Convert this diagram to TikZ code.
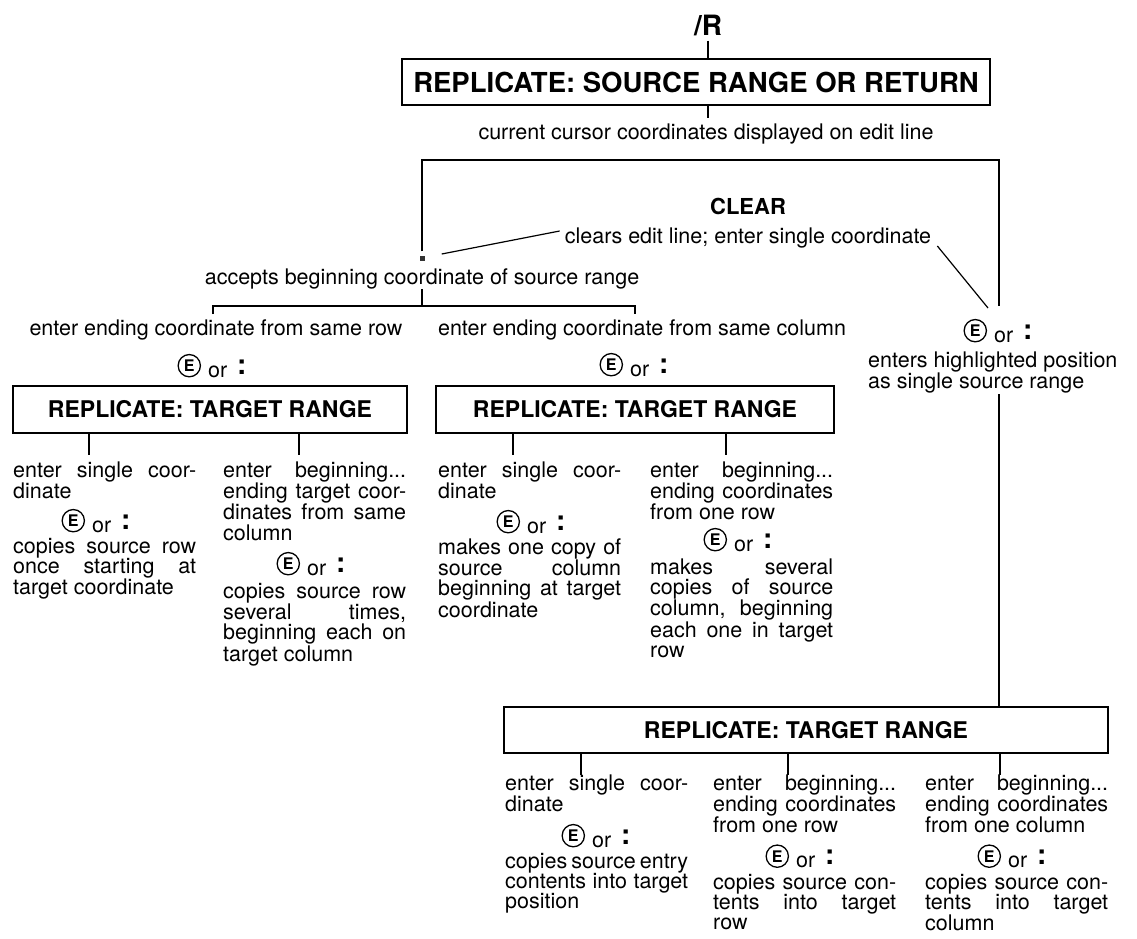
\documentclass[tikz,border=0pt]{standalone}
\usepackage{fontspec}
\setmainfont{TeX Gyre Heros}
\usetikzlibrary{calc}
\newlength\colw \setlength\colw{183pt}
\newcommand\jl[1]{\makebox[\colw][s]{#1}}
\newcommand\bodyfont{\fontsize{21.5}{20.3}\selectfont}
\newcommand\circE{\tikz[baseline={([yshift=-5.5pt]ce.base)}]\node[circle,draw,line width=1.3pt,inner sep=2.3pt,font=\bfseries\fontsize{16}{16}\selectfont](ce){E};}
\newcommand\Eor{\circE\hspace{7pt}or\hspace{10pt}\raisebox{3pt}{\bfseries\fontsize{28}{28}\selectfont :}}
\newcommand\blk[1]{\begin{minipage}[t]{\colw}\bodyfont #1\end{minipage}}
\tikzset{
  box/.style={draw, line width=1.3pt, inner sep=0pt},
  ttl/.style={font=\bfseries\fontsize{23}{23}\selectfont},
  txt/.style={font=\bodyfont, inner sep=0pt},
  col/.style={inner sep=0pt, anchor=base west},
  eor/.style={font=\bodyfont, inner sep=0pt, anchor=base},
  ln/.style={line width=1.2pt},
}
\begin{document}
\begin{tikzpicture}[x=1pt,y=-1pt]
\useasboundingbox (0,0) rectangle (1137,938);
% top
\node[font=\bfseries\fontsize{28}{28}\selectfont, inner sep=0pt, anchor=base] (r) at (708,35) {/R};
\coordinate (rx) at (708,0);
\node[box, minimum width=588, minimum height=46, font=\bfseries\fontsize{27.5}{27.5}\selectfont] (b1) at (696,82) {REPLICATE: SOURCE RANGE OR RETURN};
\draw[ln] ($(r.south -| rx)+(0,5)$) -- (b1.north -| rx);
\node[txt, anchor=base] (cur) at (706,139) {current cursor coordinates displayed on edit line};
\draw[ln] (b1.south -| rx) -- ([yshift=5pt]cur.north -| rx);
% big bracket
\coordinate (bl) at (422,160);
\coordinate (br) at (999,160);
\coordinate (brend) at (999,306);
\node[fill=black!80, minimum size=5, inner sep=0pt] (sq) at (422,258) {};
\draw[ln] ([yshift=4pt]sq.north) -- (bl) -- (br) -- (brend);
\node[font=\bfseries\fontsize{22}{22}\selectfont, inner sep=0pt, anchor=base] (clr) at (748,214) {CLEAR};
\node[txt, anchor=base] (clrt) at (748,243) {clears edit line; enter single coordinate};
\draw[ln] ([xshift=17pt,yshift=4pt]sq.east) -- ([xshift=-5pt,yshift=12pt]clrt.base west);
\coordinate (dg) at (988,308);
\draw[ln] ([xshift=6pt,yshift=-3pt]clrt.base east) -- (dg);
% source range
\node[txt, anchor=base] (acc) at (422,284) {accepts beginning coordinate of source range};
\coordinate (kL) at (213,306);
\coordinate (kR) at (635,306);
\draw[ln] ([yshift=-5pt]acc.base) -- (acc.base |- kL);
\draw[ln] ($(kL)+(0,8)$) -- (kL) -- (kR) -- ($(kR)+(0,8)$);
\node[txt, anchor=base] (er) at (216,335) {enter ending coordinate from same row};
\node[txt, anchor=base] (ec) at (642,335) {enter ending coordinate from same column};
\node[eor] (e1) at (212,377) {\Eor};
\node[eor] (e2) at (634,376) {\Eor};
% right branch
\node[eor] (eR) at (998,342) {\Eor};
\node[col] (eh) at (868,367) {\begin{minipage}[t]{260pt}\bodyfont enters highlighted position\\as single source range\end{minipage}};
\coordinate (vR) at (999,394);
% boxes 2,3
\node[box, ttl, minimum width=394, minimum height=47] (b2) at (210,409.5) {REPLICATE: TARGET RANGE};
\node[box, ttl, minimum width=398, minimum height=47] (b3) at (635,409.5) {REPLICATE: TARGET RANGE};
\coordinate (tA) at (89,455);
\coordinate (tB) at (299,455);
\coordinate (tC) at (513,455);
\coordinate (tD) at (726,455);
\draw[ln] (b2.south -| tA) -- (tA);
\draw[ln] (b2.south -| tB) -- (tB);
\draw[ln] (b3.south -| tC) -- (tC);
\draw[ln] (b3.south -| tD) -- (tD);
% column A
\node[col] (cA) at (13,477) {\blk{\jl{enter single coor-}\\dinate}};
\node[eor] (eA) at (96,532) {\Eor};
\node[col] (dA) at (13,553) {\blk{\jl{copies source row}\\\jl{once starting at}\\target coordinate}};
% column B
\node[col] (cB) at (223,477) {\blk{\jl{enter beginning...}\\\jl{ending target coor-}\\\jl{dinates from same}\\column}};
\node[eor] (eB) at (311,575) {\Eor};
\node[col] (dB) at (223,598) {\blk{\jl{copies source row}\\\jl{several times,}\\\jl{beginning each on}\\target column}};
% column C
\node[col] (cC) at (438,477) {\blk{\jl{enter single coor-}\\dinate}};
\node[eor] (eC) at (531,533) {\Eor};
\node[col] (dC) at (438,554) {\blk{\jl{makes one copy of}\\\jl{source column}\\\jl{beginning at target}\\coordinate}};
% column D
\node[col] (cD) at (650,477) {\blk{\jl{enter beginning...}\\\jl{ending coordinates}\\from one row}};
\node[eor] (eD) at (738,551) {\Eor};
\node[col] (dD) at (650,574) {\blk{\jl{makes several}\\\jl{copies of source}\\\jl{column, beginning}\\\jl{each one in target}\\row}};
% box 4
\node[box, ttl, minimum width=604, minimum height=46] (b4) at (806,730) {REPLICATE: TARGET RANGE};
\draw[ln] (vR) -- (b4.north -| vR);
\coordinate (tE) at (581,775);
\coordinate (tF) at (788,775);
\coordinate (tG) at (1000,775);
\draw[ln] (b4.south -| tE) -- (tE);
\draw[ln] (b4.south -| tF) -- (tF);
\draw[ln] (b4.south -| tG) -- (tG);
% column E
\node[col] (cE) at (505,790) {\blk{\jl{enter single coor-}\\dinate}};
\node[eor] (eE) at (596,847) {\Eor};
\node[col] (dE) at (505,868) {\blk{\jl{copies source entry}\\\jl{contents into target}\\position}};
% column F
\node[col] (cF) at (713,790) {\blk{\jl{enter beginning...}\\\jl{ending coordinates}\\from one row}};
\node[eor] (eF) at (800,867.5) {\Eor};
\node[col] (dF) at (713,889) {\blk{\jl{copies source con-}\\\jl{tents into target}\\row}};
% column G
\node[col] (cG) at (925,790) {\blk{\jl{enter beginning...}\\\jl{ending coordinates}\\from one column}};
\node[eor] (eG) at (1012,867.5) {\Eor};
\node[col] (dG) at (925,889) {\blk{\jl{copies source con-}\\\jl{tents into target}\\column}};
\end{tikzpicture}
\end{document}
